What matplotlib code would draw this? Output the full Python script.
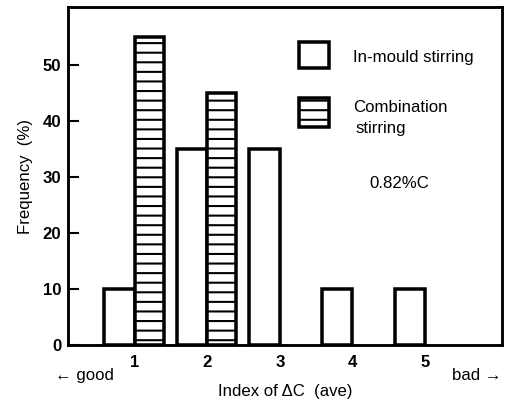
import matplotlib
matplotlib.use("Agg")
import matplotlib.pyplot as plt
from matplotlib.patches import Rectangle
import numpy as np

index = [1, 2, 3, 4, 5]
in_mould = [10, 35, 35, 10, 10]
combination = [55, 45, 0, 0, 0]
yticks = [0, 10, 20, 30, 40, 50]

DPI = 115
plt.rcParams['font.family'] = ['Liberation Sans', 'DejaVu Sans']
plt.rcParams['hatch.linewidth'] = 1.3

fig = plt.figure(figsize=(512 / DPI, 403 / DPI), dpi=DPI)
ax = fig.add_axes([68 / 512, 1 - 345 / 403, 434 / 512, 338 / 403])

x = np.array(index, dtype=float)
comb = np.array(combination, dtype=float)
ax.bar(x, in_mould, width=-0.42, align='edge', facecolor='white',
       edgecolor='black', linewidth=2.2, zorder=2)
mask = comb > 0
ax.bar(x[mask], comb[mask], width=0.40, align='edge', facecolor='white',
       edgecolor='black', linewidth=2.2, hatch='--', zorder=3)

ax.set_xlim(0.08, 6.06)
ax.set_ylim(0, 60.4)
ax.set_xticks(index)
ax.set_xticklabels([str(i) for i in index], fontsize=10.5, fontweight='bold')
ax.set_yticks(yticks)
ax.set_yticklabels([str(t) for t in yticks], fontsize=10.5, fontweight='bold')
ax.tick_params(axis='y', direction='in', length=7, width=1.3, pad=4)
ax.tick_params(axis='x', length=0, pad=6)
for s in ax.spines.values():
    s.set_linewidth(1.8)

ax.set_ylabel('Frequency  (%)', fontsize=10.5, labelpad=6)
ax.text(0.5, -0.138, 'Index of ΔC  (ave)', transform=ax.transAxes,
        ha='center', va='center', fontsize=10.5)
ax.text(-0.03, -0.09, '← good', transform=ax.transAxes,
        ha='left', va='center', fontsize=10.5)
ax.text(1.0, -0.09, 'bad →', transform=ax.transAxes,
        ha='right', va='center', fontsize=10.5)

# legend
ax.add_patch(Rectangle((0.532, 0.820), 0.069, 0.076, transform=ax.transAxes,
                       facecolor='white', edgecolor='black', linewidth=2.2,
                       zorder=4))
ax.add_patch(Rectangle((0.532, 0.645), 0.069, 0.086, transform=ax.transAxes,
                       facecolor='white', edgecolor='black', linewidth=2.2,
                       hatch='--', zorder=4))
ax.text(0.657, 0.852, 'In-mould stirring', transform=ax.transAxes,
        ha='left', va='center', fontsize=10.5)
ax.text(0.657, 0.702, 'Combination', transform=ax.transAxes,
        ha='left', va='center', fontsize=10.5)
ax.text(0.662, 0.640, 'stirring', transform=ax.transAxes,
        ha='left', va='center', fontsize=10.5)
ax.text(0.763, 0.479, '0.82%C', transform=ax.transAxes,
        ha='center', va='center', fontsize=10.5)

fig.savefig('out.png', dpi=DPI)
